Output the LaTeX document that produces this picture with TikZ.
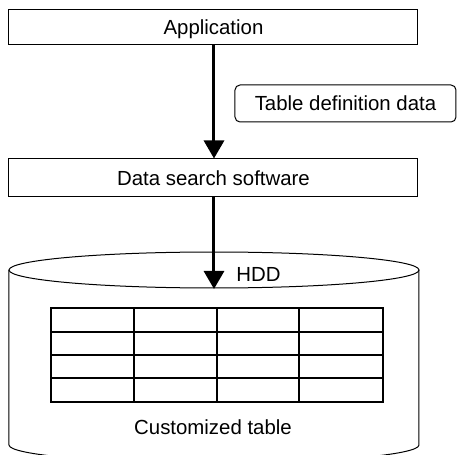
\documentclass[tikz,border=0pt]{standalone}
\usepackage{fontspec}
\setmainfont{Liberation Sans}
\usetikzlibrary{arrows.meta}
\begin{document}
\begin{tikzpicture}[x=0.5pt,y=-0.5pt,
  every node/.style={font=\fontsize{10.2}{12}\selectfont, inner sep=0pt},
  box/.style={draw, line width=0.5pt, minimum width=204.5pt, text depth=0pt},
  tag/.style={draw, line width=0.5pt, rounded corners=2.5pt},
  flow/.style={line width=1.5pt, -{Triangle[width=10pt,length=9pt]}},
  disk/.style={line width=0.5pt},
  grid outer/.style={line width=1pt},
  grid col/.style={line width=0.9pt},
  grid row/.style={line width=0.6pt}]
\useasboundingbox (0,0) rectangle (457,455);

% software layers
\node[box, minimum height=17.5pt] (app) at (213.5,27.5) {Application};
\node[box, minimum height=19pt] (dss) at (213.5,178) {Data search software};
\node[tag, minimum width=110.5pt, minimum height=18.5pt] (tdd) at (345.5,103.5) {Table definition data};

% disk drum: full top rim, sides and the lower front rim
\draw[disk] (9,270) arc[start angle=180,end angle=0,x radius=205,y radius=18]
            arc[start angle=0,end angle=-180,x radius=205,y radius=18] -- cycle;
\draw[disk] (9,270) -- (9,445) arc[start angle=180,end angle=0,x radius=205,y radius=18] -- (419,270);
\node (hdd) at (258.5,274) {HDD};
\coordinate (hddtop) at (214,289);

% data flow
\draw[flow] (app.south -| 214,0) -- (dss.north -| 214,0);
\draw[flow] (dss.south -| 214,0) -- (hddtop);

% stored table
\foreach \y in {332,355,378} \draw[grid row] (51,\y) -- (383,\y);
\foreach \x in {134,217,299} \draw[grid col] (\x,308) -- (\x,402);
\draw[grid outer] (51,308) rectangle (383,402);
\node (ct) at (213,427) {Customized table};
\end{tikzpicture}
\end{document}
